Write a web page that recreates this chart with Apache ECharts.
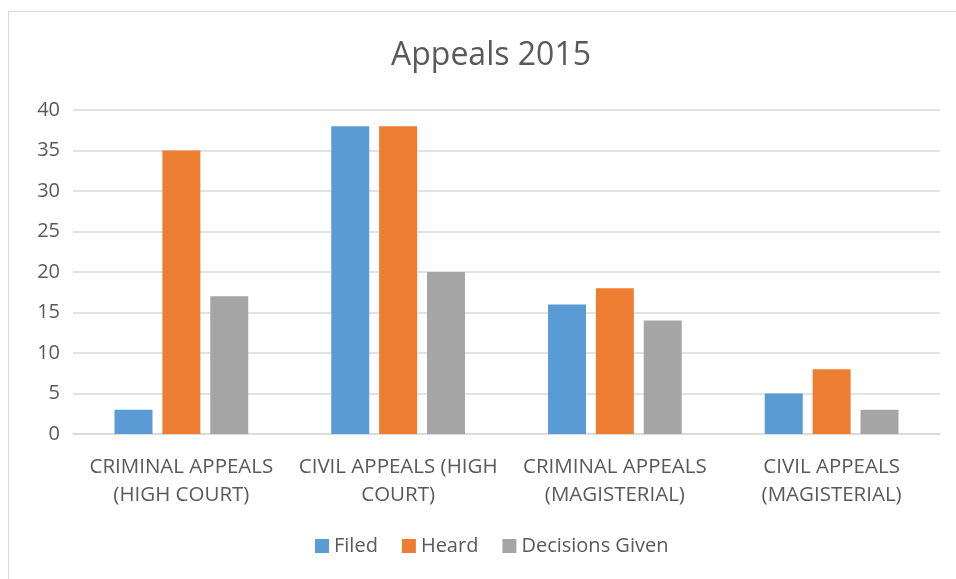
<!DOCTYPE html>
<html>
<head>
<meta charset="utf-8">
<title>Appeals 2015</title>
<script src="https://cdn.jsdelivr.net/npm/echarts@6/dist/echarts.min.js"></script>
<style>
  html, body { margin: 0; padding: 0; background: #fff; }
  #main { width: 956px; height: 579px; }
</style>
</head>
<body>
<div id="main"></div>
<script>
// data
var categories = ['CRIMINAL APPEALS\n(HIGH COURT)', 'CIVIL APPEALS (HIGH\nCOURT)', 'CRIMINAL APPEALS\n(MAGISTERIAL)', 'CIVIL APPEALS\n(MAGISTERIAL)'];
var filed = [3, 38, 16, 5];
var heard = [35, 38, 18, 8];
var decisions = [17, 20, 14, 3];
var yTicks = { min: 0, max: 40, interval: 5 };

var font = 'Open Sans, Liberation Sans, sans-serif';
var chart = echarts.init(document.getElementById('main'));
chart.setOption({
  animation: false,
  color: ['#5B9BD5', '#ED7D31', '#A5A5A5'],
  graphic: [{
    type: 'rect',
    shape: { x: 8.5, y: 11.5, width: 960, height: 600 },
    style: { fill: 'none', stroke: '#d9d9d9', lineWidth: 1 },
    silent: true
  }],
  title: {
    text: 'Appeals 2015',
    left: 386,
    top: 35,
    textStyle: { color: '#595959', fontSize: 32, fontWeight: 'normal', fontFamily: font }
  },
  legend: {
    bottom: 18,
    left: 310,
    itemWidth: 14,
    itemHeight: 14,
    itemGap: 24,
    icon: 'rect',
    textStyle: { color: '#595959', fontSize: 20, fontFamily: font },
    data: ['Filed', 'Heard', 'Decisions Given']
  },
  grid: { left: 73, right: 16, top: 110, bottom: 145, containLabel: false },
  xAxis: {
    type: 'category',
    data: categories,
    axisLine: { lineStyle: { color: '#d9d9d9', width: 1.5 } },
    axisTick: { show: false },
    axisLabel: {
      color: '#595959', fontSize: 20.5, fontFamily: font, lineHeight: 28, margin: 19, interval: 0
    }
  },
  yAxis: {
    type: 'value',
    min: yTicks.min,
    max: yTicks.max,
    interval: yTicks.interval,
    axisLine: { show: false },
    axisTick: { show: false },
    axisLabel: { color: '#595959', fontSize: 20, fontFamily: font, margin: 13 },
    splitLine: { lineStyle: { color: '#d9d9d9', width: 1.5 } }
  },
  series: [
    { name: 'Filed', type: 'bar', data: filed, barWidth: 38, barGap: '26%' },
    { name: 'Heard', type: 'bar', data: heard, barWidth: 38, barGap: '26%' },
    { name: 'Decisions Given', type: 'bar', data: decisions, barWidth: 38, barGap: '26%' }
  ]
});
</script>
</body>
</html>
